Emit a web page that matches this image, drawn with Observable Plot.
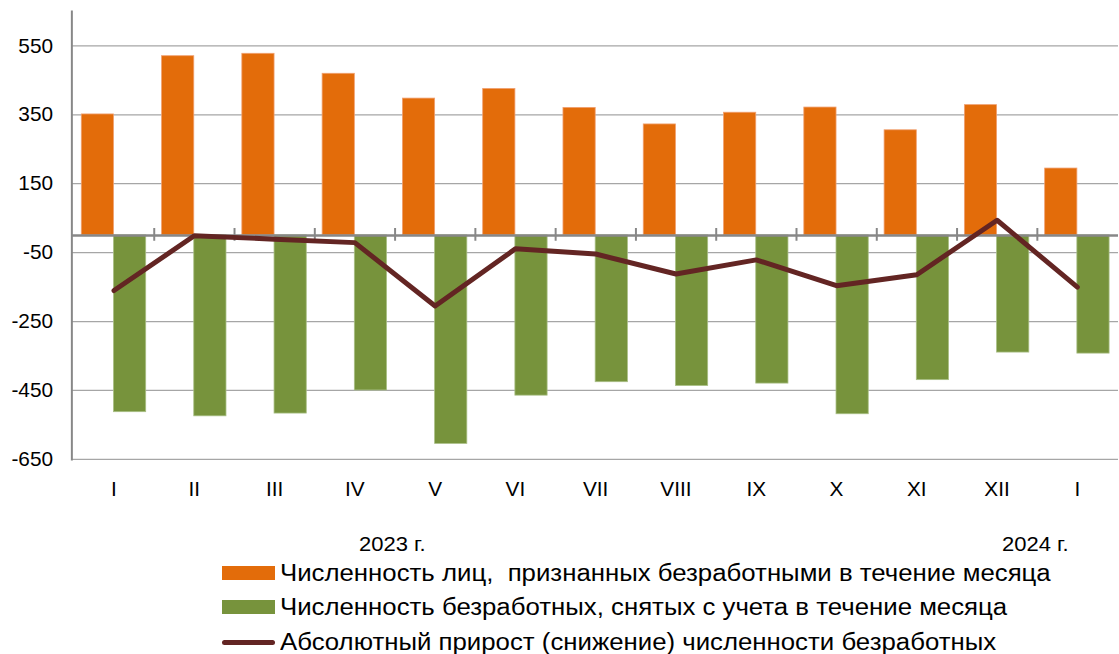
<!DOCTYPE html>
<html>
<head>
<meta charset="utf-8">
<script src="https://cdn.jsdelivr.net/npm/d3@7"></script>
<script src="https://cdn.jsdelivr.net/npm/@observablehq/plot@0.6"></script>
<style>
  html, body { margin: 0; padding: 0; background: #fff; overflow: hidden; width: 1119px; height: 654px; }
  body { font-family: "Liberation Sans", Arial, sans-serif; color: #000; position: relative; }
  #chart { position: absolute; left: 0; top: 0; }
  .year { position: absolute; font-size: 20px; line-height: 20px; white-space: nowrap; transform: scaleX(1.1); transform-origin: left center; }
  .leg { position: absolute; left: 222px; height: 30px; display: flex; align-items: center; white-space: nowrap; font-size: 23.5px; }
  .leg span { display: inline-block; transform: scaleX(1.097); transform-origin: left center; }
  .sw { width: 53px; height: 14px; margin-right: 5px; }
  .ln { width: 53px; height: 5px; border-radius: 2.5px; margin-right: 5px; }
</style>
</head>
<body>
<div id="chart"></div>
<div class="year" style="left:359px; top:534px;">2023 г.</div>
<div class="year" style="left:1002px; top:534px;">2024 г.</div>
<div class="leg" style="top:558px;"><div class="sw" style="background:#E36C0A"></div><span>Численность лиц,&nbsp; признанных безработными в течение месяца</span></div>
<div class="leg" style="top:592px;"><div class="sw" style="background:#77933C"></div><span>Численность безработных, снятых с учета в течение месяца</span></div>
<div class="leg" style="top:627px;"><div class="ln" style="background:#632523"></div><span>Абсолютный прирост (снижение) численности безработных</span></div>
<script>
const periods = ["2023-01","2023-02","2023-03","2023-04","2023-05","2023-06","2023-07","2023-08","2023-09","2023-10","2023-11","2023-12","2024-01"];
const monthLabels = ["I","II","III","IV","V","VI","VII","VIII","IX","X","XI","XII","I"];
const recognized = [351, 520, 527, 469, 397, 425, 370, 322, 356, 371, 305, 378, 194];
const removed = [-513, -525, -517, -450, -605, -465, -426, -437, -430, -519, -420, -340, -343];
const growth = [-160, -1, -11, -21, -205, -39, -54, -112, -71, -146, -114, 44, -150];
const yTicks = [550, 350, 150, -50, -250, -450, -650];

const rows = periods.map((p, i) => ({period: p, label: monthLabels[i], recognized: recognized[i], removed: removed[i], growth: growth[i]}));
const labelOf = new Map(rows.map(d => [d.period, d.label]));

const width = 1129, marginLeft = 72, marginRight = 1;
const step = (width - marginLeft - marginRight) / periods.length;
const half = step * 0.8 / 2;

const chart = Plot.plot({
  width,
  height: 520,
  marginLeft,
  marginRight,
  marginTop: 11,
  marginBottom: 57,
  style: {fontFamily: "Liberation Sans, Arial, sans-serif", color: "#000", background: "#fff", overflow: "visible"},
  x: {domain: periods, paddingInner: 0.2, paddingOuter: 0.1, label: null},
  y: {domain: [-650, 650], label: null},
  marks: [
    Plot.ruleY(yTicks, {stroke: "#a6a6a6", strokeWidth: 1.3}),
    Plot.barY(rows, {x: "period", y: "recognized", fill: "#E36C0A", stroke: "#F0A070", strokeWidth: 0.8, insetRight: half}),
    Plot.barY(rows, {x: "period", y: "removed", fill: "#77933C", stroke: "#A9BF85", strokeWidth: 0.8, insetLeft: half}),
    Plot.ruleY([0], {stroke: "#878787", strokeWidth: 2.5}),
    Plot.ruleX(rows.slice(0, -1), {x: "period", y1: 20, y2: -17, dx: step / 2, stroke: "#878787", strokeWidth: 2}),
    Plot.frame({anchor: "left", stroke: "#878787", strokeWidth: 2}),
    Plot.line(rows, {x: "period", y: "growth", stroke: "#632523", strokeWidth: 5, strokeLinejoin: "round", strokeLinecap: "round"}),
    Plot.axisY({ticks: yTicks, tickSize: 0, tickPadding: 19, fontSize: 21, tickFormat: d => String(d), label: null}),
    Plot.axisX({tickSize: 0, tickPadding: 22, fontSize: 21, tickFormat: d => labelOf.get(d), label: null})
  ]
});
document.getElementById("chart").appendChild(chart);
</script>
</body>
</html>
